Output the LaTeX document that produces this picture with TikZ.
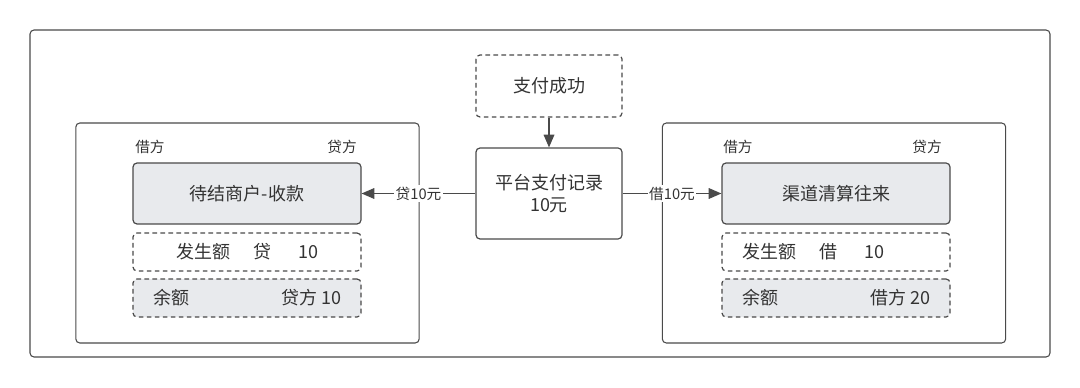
\documentclass[tikz,border=0pt]{standalone}
\usepackage{fontspec}
\setmainfont{Noto Sans CJK SC}
\usetikzlibrary{arrows.meta}
\definecolor{ln}{HTML}{4A4A4A}
\definecolor{tx}{HTML}{333333}
\definecolor{gf}{HTML}{E8EAED}
\tikzset{
  base/.style={draw=ln, line width=0.9pt, rounded corners=3pt, inner sep=0pt, text=tx, font=\fontsize{13.5}{16}\selectfont, align=center},
  solidbox/.style={base},
  dbox/.style={base, dash pattern=on 3.5pt off 2.5pt},
  panel/.style={draw=ln, line width=0.8pt, rounded corners=3pt, inner sep=0pt, minimum width=257.5pt, minimum height=165pt},
  small/.style={text=tx, font=\fontsize{11}{13}\selectfont, inner sep=0pt},
  mid/.style={text=tx, font=\fontsize{13.5}{16}\selectfont, inner sep=0pt},
  arr/.style={draw=ln, line width=0.9pt, -{Triangle[length=9.5pt,width=8pt]}},
  elabel/.style={fill=white, text=tx, font=\fontsize{11}{13}\selectfont, inner sep=1pt}
}
\begin{document}
\begin{tikzpicture}[x=0.75pt,y=-0.75pt]
\useasboundingbox (0,0) rectangle (1080,388);
\node[draw=ln, line width=0.8pt, rounded corners=3pt, minimum width=765pt, minimum height=245.25pt, inner sep=0pt] (outer) at (540,193.5) {};
% panels
\node[panel] (lp) at (247.5,233) {};
\node[panel] (rp) at (834,233) {};
% center
\node[dbox, minimum width=109.5pt, minimum height=46.5pt] (pay) at (549,86) {支付成功};
\node[solidbox, minimum width=109.5pt, minimum height=68.25pt] (rec) at (549,193.5) {平台支付记录\\10元};
% left panel contents
\node[small, anchor=west] (ljie) at (135,147) {借方};
\node[small, anchor=east] (ldai) at (357,147) {贷方};
\node[solidbox, fill=gf, minimum width=171pt, minimum height=45.75pt] (lmain) at (247,193.5) {待结商户-收款};
\node[dbox, minimum width=171pt, minimum height=28.5pt] (locc) at (247,252) {};
\node[dbox, fill=gf, minimum width=171pt, minimum height=28.5pt] (lbal) at (247,298) {};
\node[mid, anchor=west] (lo1) at (176,252) {发生额};
\node[mid, anchor=west] (lo2) at (253,252) {贷};
\node[mid, anchor=west] (lo3) at (298,252) {10};
\node[mid, anchor=west] (lb1) at (153,298) {余额};
\node[mid, anchor=east] (lb2) at (342,298) {贷方 10};
% right panel contents
\node[small, anchor=west] (rjie) at (723,147) {借方};
\node[small, anchor=east] (rdai) at (942,147) {贷方};
\node[solidbox, fill=gf, minimum width=171pt, minimum height=45.75pt] (rmain) at (836,193.5) {渠道清算往来};
\node[dbox, minimum width=171pt, minimum height=28.5pt] (rocc) at (836,252) {};
\node[dbox, fill=gf, minimum width=171pt, minimum height=28.5pt] (rbal) at (836,298) {};
\node[mid, anchor=west] (ro1) at (742,252) {发生额};
\node[mid, anchor=west] (ro2) at (819,252) {借};
\node[mid, anchor=west] (ro3) at (864,252) {10};
\node[mid, anchor=west] (rb1) at (742,298) {余额};
\node[mid, anchor=east] (rb2) at (931,298) {借方 20};
% connectors
\draw[arr] (pay) -- (rec);
\draw[arr] (rec.west) -- (lmain.east) node[elabel, midway] {贷10元};
\draw[arr] (rec.east) -- (rmain.west) node[elabel, midway] {借10元};
\end{tikzpicture}
\end{document}
